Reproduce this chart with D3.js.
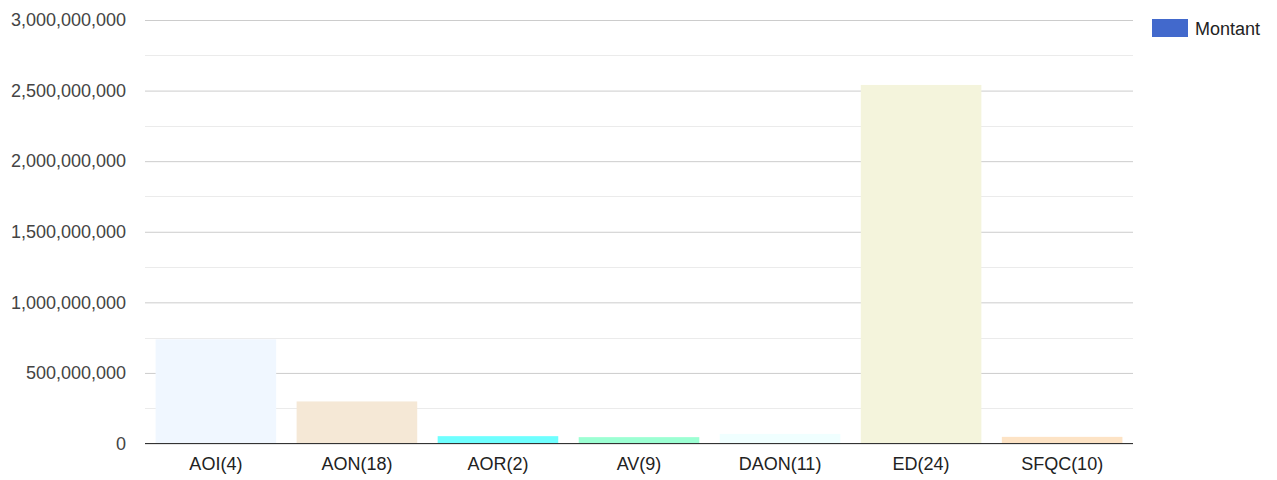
<!DOCTYPE html>
<html>
<head>
<meta charset="utf-8">
<script src="https://cdn.jsdelivr.net/npm/d3@7"></script>
<style>
  body { margin: 0; background: #fff; }
  text { font-family: "Liberation Sans", Arial, sans-serif; }
</style>
</head>
<body>
<script>
const categories = ['AOI(4)', 'AON(18)', 'AOR(2)', 'AV(9)', 'DAON(11)', 'ED(24)', 'SFQC(10)'];
const montant = [738000000, 298000000, 52000000, 45000000, 68000000, 2540000000, 47000000];
const barColors = ['#f0f7ff', '#f5e8d6', '#6fffff', '#9cffd3', '#f0ffff', '#f4f4dc', '#fde3c5'];
const yTicks = [0, 500000000, 1000000000, 1500000000, 2000000000, 2500000000, 3000000000];
const seriesName = 'Montant';

const width = 1277;
const height = 480;
const plotLeft = 145, plotRight = 1133, plotTop = 20, plotBottom = 443.5;
const fontSize = '18px';

const svg = d3.select('body').append('svg')
  .attr('width', width)
  .attr('height', height);

const x = d3.scaleBand()
  .domain(categories)
  .range([plotLeft, plotRight])
  .paddingInner(0.145)
  .paddingOuter(0.075);

const y = d3.scaleLinear()
  .domain([0, 3000000000])
  .range([plotBottom, plotTop]);

// minor gridlines
const minor = d3.range(250000000, 3000000000, 500000000);
svg.append('g')
  .selectAll('line')
  .data(minor)
  .enter()
  .append('line')
  .attr('x1', plotLeft).attr('x2', plotRight)
  .attr('y1', (d) => Math.round(y(d)) + 0.5)
  .attr('y2', (d) => Math.round(y(d)) + 0.5)
  .attr('stroke', '#ebebeb');

// major gridlines + labels
const yAxis = d3.axisLeft(y)
  .tickValues(yTicks)
  .tickFormat(d3.format(','))
  .tickSize(-(plotRight - plotLeft))
  .tickPadding(19);

const gy = svg.append('g')
  .attr('transform', `translate(${plotLeft},0)`)
  .call(yAxis);
gy.select('.domain').remove();
gy.selectAll('.tick line').attr('stroke', '#cccccc');
gy.selectAll('.tick text')
  .attr('fill', '#444')
  .style('font-size', fontSize);

// bars
svg.append('g')
  .selectAll('rect')
  .data(montant)
  .enter()
  .append('rect')
  .attr('x', (d, i) => x(categories[i]))
  .attr('y', (d) => y(d))
  .attr('width', x.bandwidth())
  .attr('height', (d) => y(0) - y(d))
  .attr('fill', (d, i) => barColors[i]);

// baseline
svg.append('line')
  .attr('x1', plotLeft).attr('x2', plotRight)
  .attr('y1', y(0)).attr('y2', y(0))
  .attr('stroke', '#333')
  .attr('stroke-width', 1.2);

// x axis labels
const xAxis = d3.axisBottom(x).tickSize(0).tickPadding(14);
const gx = svg.append('g')
  .attr('transform', `translate(0,${plotBottom})`)
  .call(xAxis);
gx.select('.domain').remove();
gx.selectAll('.tick text')
  .attr('fill', '#222')
  .style('font-size', fontSize);

// legend
const legend = svg.append('g').attr('transform', 'translate(1152,19)');
legend.append('rect')
  .attr('width', 36)
  .attr('height', 18)
  .attr('fill', '#4269cc');
legend.append('text')
  .attr('x', 43)
  .attr('y', 16)
  .attr('fill', '#222')
  .style('font-size', fontSize)
  .text(seriesName);
</script>
</body>
</html>
